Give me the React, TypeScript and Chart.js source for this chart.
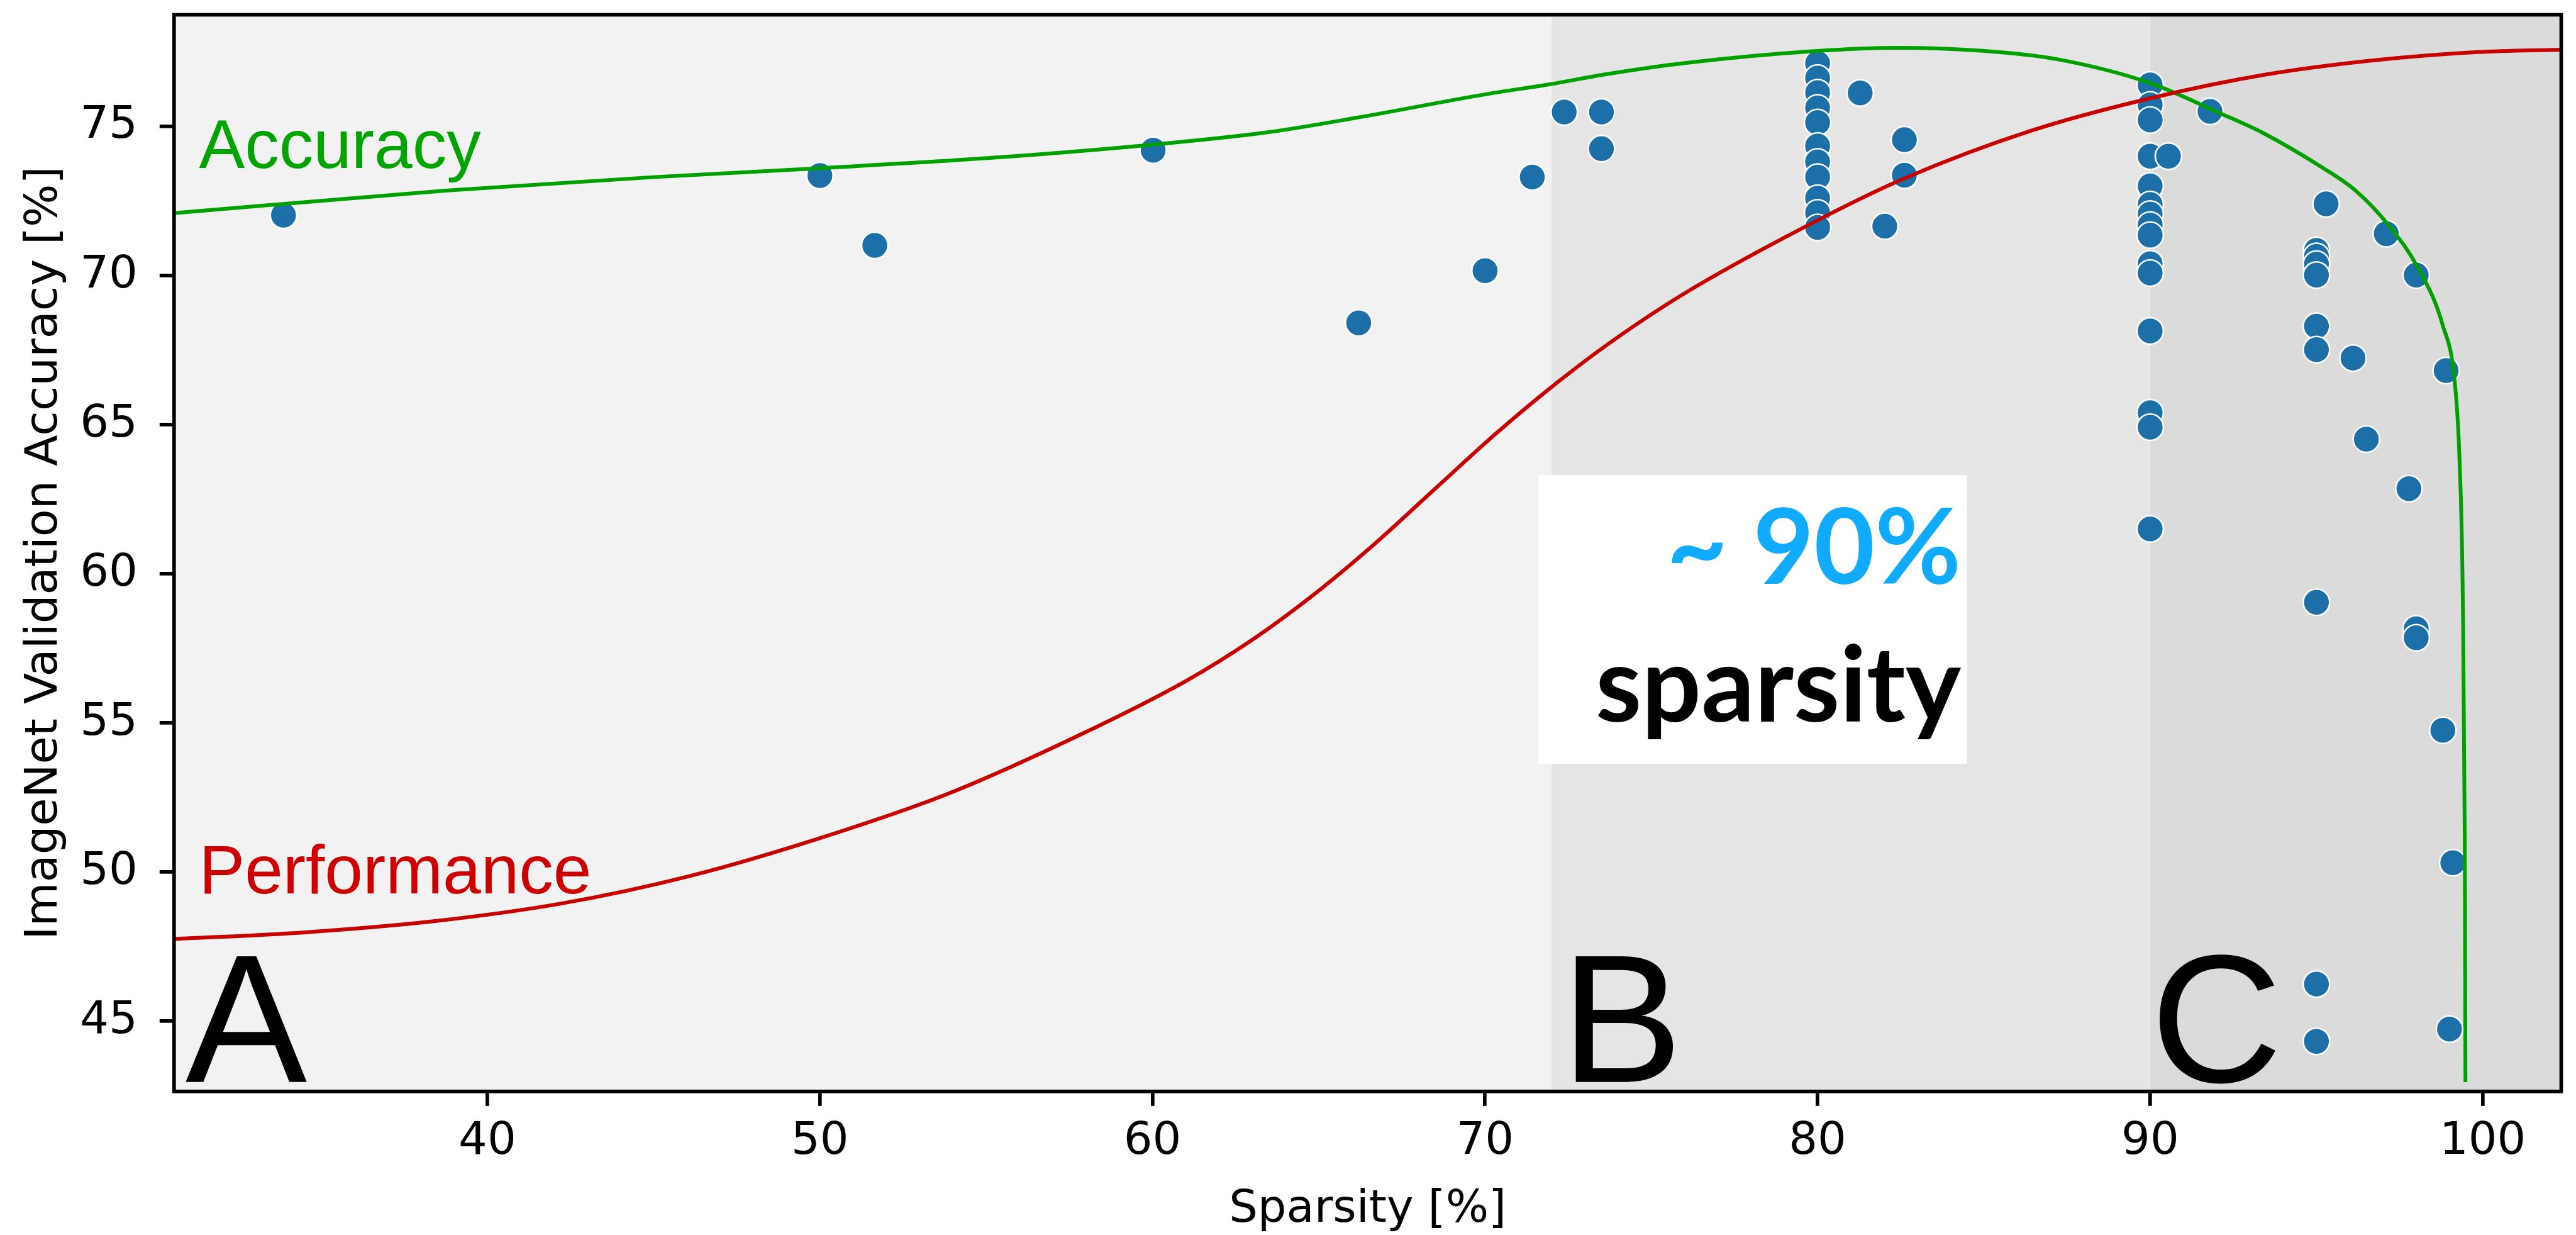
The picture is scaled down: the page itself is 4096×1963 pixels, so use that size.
import React, { useEffect, useRef } from "react";
import { Chart, registerables } from "chart.js";

Chart.register(...registerables);

const W = 4096;
const H = 1963;

// Individual pruning runs: sparsity [%] vs. top-1 accuracy [%]
const runSparsity = [
  33.87, 50.0, 51.65, 60.02, 66.2, 70.0, 71.42, 72.38, 73.5, 73.5,
  80, 80, 80, 80, 80, 80, 80, 80, 80, 80, 80,
  81.28, 82.61, 82.61, 82.02,
  90, 90, 90, 90, 90, 90, 90, 90, 90, 90, 90, 90, 90, 90, 90,
  90.55, 91.8,
  95, 95, 95, 95, 95, 95, 95, 95, 95,
  95.29, 96.1, 96.5, 97.1, 98.0, 97.78, 98.9, 98.0, 98.0, 98.8, 99.1, 99.0,
];
const runAccuracy = [
  72.02, 73.35, 71.01, 74.2, 68.41, 70.16, 73.3, 75.48, 75.48, 74.25,
  77.11, 76.62, 76.13, 75.62, 75.13, 74.34, 73.81, 73.3, 72.59, 72.1, 71.61,
  76.12, 74.55, 73.36, 71.65,
  76.39, 75.72, 75.21, 74.0, 73.0, 72.38, 72.06, 71.69, 71.35, 70.39, 70.08, 68.14, 65.4, 64.91, 61.5,
  74.0, 75.5,
  70.84, 70.64, 70.38, 70.01, 68.3, 67.51, 59.04, 46.24, 44.32,
  72.4, 67.23, 64.51, 71.4, 70.01, 62.85, 66.81, 58.15, 57.85, 54.75, 50.31, 44.73,
];

// Accuracy trend curve
const accCurveSparsity = [
  30.58, 38.8, 45.05, 50.04, 55.24, 60.04, 63.46, 66.2, 70.04, 72.0, 73.55,
  76.0, 79.9, 82.43, 84.96, 87.2, 90.0, 92.1, 93.39, 95.13, 96.17, 97.12, 98.06, 98.8,
  99.16, 99.3, 99.4, 99.46, 99.48,
];
const accCurveValue = [
  72.09, 72.85, 73.3, 73.6, 73.95, 74.39, 74.8, 75.3, 76.08, 76.42, 76.73,
  77.12, 77.52, 77.63, 77.53, 77.25, 76.45, 75.44, 74.78, 73.65, 72.85, 71.75, 70.24, 68.32,
  66.41, 63.88, 59.2, 51.0, 42.95,
];

// Performance trend curve
const perfCurveSparsity = [
  30.58, 34.46, 38.34, 42.22, 46.11, 49.99, 53.87, 57.75, 61.0, 63.02, 64.85, 66.68,
  68.5, 70.33, 72.16, 73.7, 76.0, 80.0, 82.6, 86.44, 90.0, 93.5, 96.7, 99.84, 102.36,
];
const perfCurveValue = [
  47.75, 47.97, 48.34, 48.94, 49.87, 51.13, 52.63, 54.56, 56.4, 57.8, 59.3, 61.0,
  62.85, 64.7, 66.4, 67.7, 69.4, 71.85, 73.25, 74.86, 75.94, 76.74, 77.21, 77.49, 77.57,
];

const xTicks = [40, 50, 60, 70, 80, 90, 100];
const yTicks = [45, 50, 55, 60, 65, 70, 75];
const xRange = [30.58, 102.36];
const yRange = [42.64, 78.74];

// Sparsity regimes A | B | C
const regionEdges = [72, 90];
const regionColors = ["#f2f2f2", "#e5e5e5", "#dbdbdb"];
const regionLetters = ["A", "B", "C"];
const regionLetterX = [30.92, 72.28, 90.01];
const regionLetterBaseline = 42.96;

const curveLabels = [
  { text: "Accuracy", x: 31.33, y: 73.6, color: "#00a400" },
  { text: "Performance", x: 31.33, y: 49.29, color: "#cc0000" },
];

const callout = {
  left: 71.6,
  right: 84.49,
  top: 63.3,
  bottom: 53.63,
  textRight: 84.31,
  lines: [
    { text: "~ 90%", y: 59.65, color: "#10aaff" },
    { text: "sparsity", y: 55.05, color: "#000000" },
  ],
};

const PLOT = { left: 276.8, right: 4077.3, top: 18, bottom: 1734.8 };
const AXIS_FONT = "DejaVu Sans";
const FRAME_W = 5.7;

const decorations = {
  id: "decorations",
  beforeDatasetsDraw(chart: any) {
    const { ctx, chartArea: a, scales } = chart;
    const x = scales.x;
    const y = scales.y;
    ctx.save();
    const edges = [a.left, ...regionEdges.map((v) => x.getPixelForValue(v)), a.right];
    regionColors.forEach((c, i) => {
      ctx.fillStyle = c;
      ctx.fillRect(edges[i], a.top, edges[i + 1] - edges[i], a.bottom - a.top);
    });
    ctx.fillStyle = "#000";
    ctx.textAlign = "left";
    ctx.textBaseline = "alphabetic";
    ctx.font = "290px 'Liberation Sans'";
    regionLetters.forEach((t, i) => {
      ctx.fillText(t, x.getPixelForValue(regionLetterX[i]), y.getPixelForValue(regionLetterBaseline));
    });
    ctx.font = "109px 'Liberation Sans'";
    curveLabels.forEach((l) => {
      ctx.fillStyle = l.color;
      ctx.fillText(l.text, x.getPixelForValue(l.x), y.getPixelForValue(l.y));
    });
    ctx.restore();
  },
  afterDatasetsDraw(chart: any) {
    const { ctx, chartArea: a, scales } = chart;
    const x = scales.x;
    const y = scales.y;
    ctx.save();
    const bx0 = x.getPixelForValue(callout.left);
    const bx1 = x.getPixelForValue(callout.right);
    const by0 = y.getPixelForValue(callout.top);
    const by1 = y.getPixelForValue(callout.bottom);
    ctx.fillStyle = "#ffffff";
    ctx.fillRect(bx0, by0, bx1 - bx0, by1 - by0);
    ctx.textAlign = "right";
    ctx.textBaseline = "alphabetic";
    ctx.font = "bold 167px Lato";
    callout.lines.forEach((l) => {
      ctx.fillStyle = l.color;
      ctx.fillText(l.text, x.getPixelForValue(callout.textRight), y.getPixelForValue(l.y));
    });
    // frame
    ctx.strokeStyle = "#000";
    ctx.lineWidth = FRAME_W;
    ctx.strokeRect(a.left, a.top, a.right - a.left, a.bottom - a.top);
    // axis titles
    ctx.fillStyle = "#000";
    ctx.font = `72px '${AXIS_FONT}'`;
    ctx.textAlign = "center";
    ctx.fillText("Sparsity [%]", (a.left + a.right) / 2, 1941.5);
    ctx.translate(90, (a.top + a.bottom) / 2);
    ctx.rotate(-Math.PI / 2);
    ctx.fillText("ImageNet Validation Accuracy [%]", 0, 0);
    ctx.restore();
  },
};

export default function App() {
  const ref = useRef<HTMLCanvasElement>(null);
  useEffect(() => {
    document.body.style.margin = "0";
    const canvas = ref.current;
    if (!canvas) return;
    const tickFont = { family: AXIS_FONT, size: 72 };
    const grid = {
      drawOnChartArea: false,
      drawTicks: true,
      tickLength: 23,
      tickWidth: FRAME_W,
      tickColor: "#000",
      color: "#000",
      lineWidth: FRAME_W,
    };
    const chart = new Chart(canvas, {
      type: "scatter",
      data: {
        datasets: [
          {
            type: "line",
            label: "Performance",
            data: perfCurveSparsity.map((v, i) => ({ x: v, y: perfCurveValue[i] })),
            borderColor: "#c80000",
            borderWidth: 6,
            pointRadius: 0,
            fill: false,
            cubicInterpolationMode: "monotone",
            order: 0,
          },
          {
            type: "line",
            label: "Accuracy",
            data: accCurveSparsity.map((v, i) => ({ x: v, y: accCurveValue[i] })),
            borderColor: "#00a000",
            borderWidth: 6,
            pointRadius: 0,
            fill: false,
            cubicInterpolationMode: "monotone",
            order: 1,
          },
          {
            label: "Runs",
            data: runSparsity.map((v, i) => ({ x: v, y: runAccuracy[i] })),
            backgroundColor: "#1d6fa8",
            borderColor: "#ffffff",
            borderWidth: 2.5,
            pointRadius: 21,
            pointHoverRadius: 21,
            order: 2,
          },
        ],
      } as any,
      options: {
        animation: false,
        responsive: false,
        devicePixelRatio: 1,
        events: [],
        layout: {
          padding: { left: 0, top: PLOT.top, right: W - PLOT.right, bottom: 0 },
        },
        plugins: { legend: { display: false }, tooltip: { enabled: false } },
        scales: {
          x: {
            type: "linear",
            min: xRange[0],
            max: xRange[1],
            border: { display: false },
            grid,
            ticks: { font: tickFont, color: "#000", padding: 14, maxRotation: 0 },
            afterBuildTicks: (axis: any) => {
              axis.ticks = xTicks.map((v) => ({ value: v }));
            },
            afterFit: (axis: any) => {
              axis.height = H - PLOT.bottom;
              axis.paddingLeft = 0;
              axis.paddingRight = 0;
            },
          },
          y: {
            type: "linear",
            min: yRange[0],
            max: yRange[1],
            border: { display: false },
            grid,
            ticks: { font: tickFont, color: "#000", padding: 35 },
            afterBuildTicks: (axis: any) => {
              axis.ticks = yTicks.map((v) => ({ value: v }));
            },
            afterFit: (axis: any) => {
              axis.width = PLOT.left;
              axis.paddingTop = 0;
              axis.paddingBottom = 0;
            },
          },
        },
      } as any,
      plugins: [decorations],
    });
    return () => chart.destroy();
  }, []);
  return (
    <div style={{ position: "absolute", left: 0, top: 0, width: W, height: H, background: "#fff" }}>
      <canvas ref={ref} width={W} height={H} style={{ width: W, height: H, display: "block" }} />
    </div>
  );
}
